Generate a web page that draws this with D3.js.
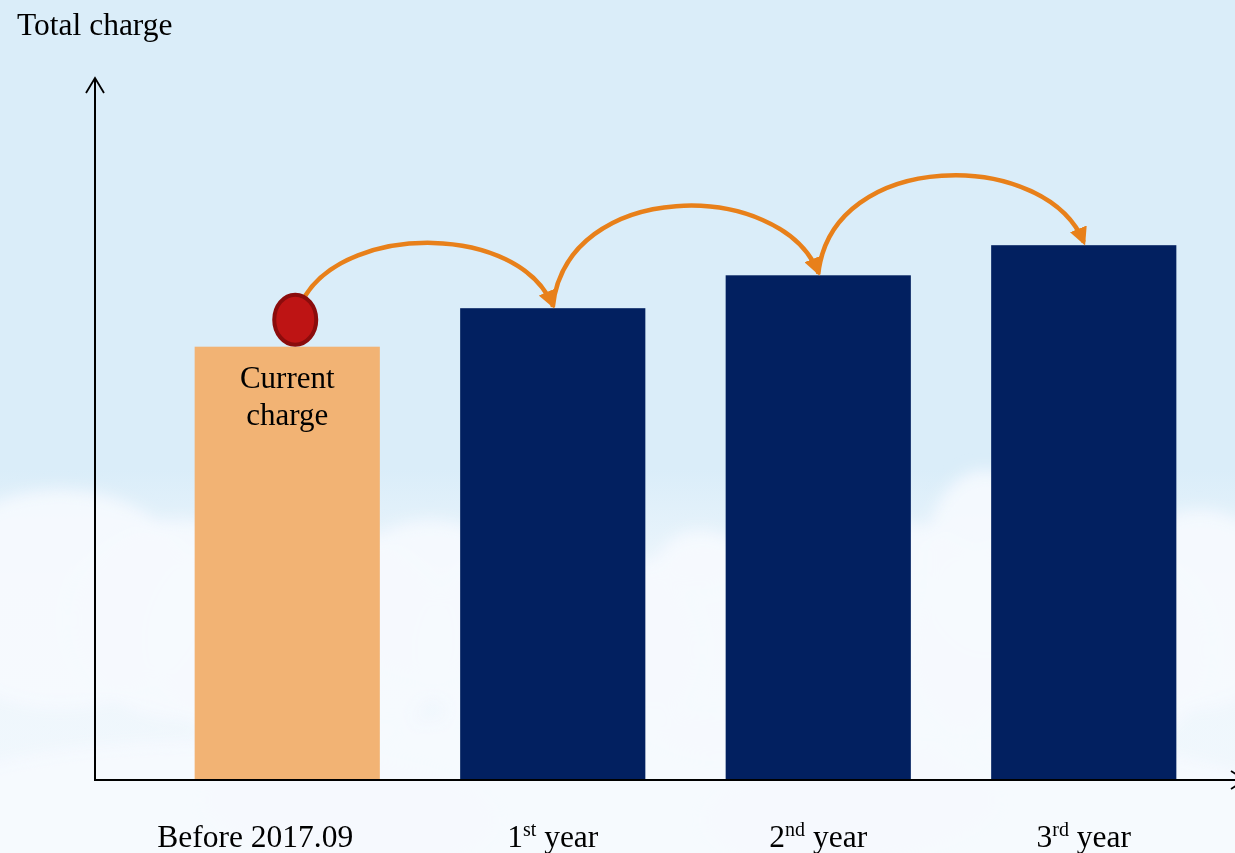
<!DOCTYPE html>
<html><head><meta charset="utf-8">
<script src="https://cdn.jsdelivr.net/npm/d3@7"></script>
<style>html,body{margin:0;padding:0;overflow:hidden;background:#DAEDF9}svg{display:block}</style>
</head><body>
<svg id="chart" width="1235" height="853"></svg>
<script>
const categories = ["Before 2017.09", "1st year", "2nd year", "3rd year"];
const labelMain = ["Before 2017.09", "1", "2", "3"];
const labelSup = ["", "st", "nd", "rd"];
const labelTail = ["", " year", " year", " year"];
const values = [61.9, 67.4, 72.1, 76.4];
const barLabel = ["Current", "charge"];
const yTitle = "Total charge";

const W = 1235, H = 853;
const svg = d3.select("#chart");
const defs = svg.append("defs");

// background sky
const sky = defs.append("linearGradient").attr("id", "sky").attr("x1", 0).attr("y1", 0).attr("x2", 0).attr("y2", 1);
sky.append("stop").attr("offset", "0").attr("stop-color", "#DAEDF9");
sky.append("stop").attr("offset", "0.55").attr("stop-color", "#DAEDF9");
sky.append("stop").attr("offset", "0.68").attr("stop-color", "#EEF6FC");
sky.append("stop").attr("offset", "1").attr("stop-color", "#F1F8FD");
svg.append("rect").attr("width", W).attr("height", H).attr("fill", "url(#sky)");

const blur = defs.append("filter").attr("id", "blur").attr("x", "-50%").attr("y", "-50%").attr("width", "200%").attr("height", "200%");
blur.append("feGaussianBlur").attr("stdDeviation", 8);
const clouds = [
  [60, 600, 140, 110], [180, 620, 110, 100], [300, 640, 150, 120], [430, 600, 90, 80],
  [560, 650, 140, 110], [700, 560, 40, 30], [720, 650, 120, 110], [880, 640, 140, 120],
  [985, 560, 60, 90], [1060, 650, 150, 120], [1200, 610, 90, 100], [600, 800, 400, 90], [200, 820, 300, 80], [1000, 820, 300, 80]
];
svg.append("g").attr("filter", "url(#blur)").selectAll("ellipse").data(clouds).join("ellipse")
  .attr("cx", d => d[0]).attr("cy", d => d[1]).attr("rx", d => d[2]).attr("ry", d => d[3])
  .attr("fill", "#F6FAFE").attr("opacity", 0.9);

// scales
const x = d3.scaleBand().domain(categories).range([115, 1256]).paddingInner(0.3025).paddingOuter(0.3);
const y = d3.scaleLinear().domain([0, 100]).range([780, 80]);
const axisX0 = 95;

// bars
svg.append("g").selectAll("rect").data(categories).join("rect")
  .attr("x", d => x(d)).attr("y", (d, i) => y(values[i]))
  .attr("width", x.bandwidth()).attr("height", (d, i) => y(0) - y(values[i]))
  .attr("fill", (d, i) => i === 0 ? "#F2B374" : "#022060");

// axes
const axG = svg.append("g").attr("stroke", "#000").attr("stroke-width", 2).attr("fill", "none");
axG.append("line").attr("x1", axisX0).attr("y1", y(0)).attr("x2", axisX0).attr("y2", 78);
axG.append("path").attr("d", `M${axisX0 - 9},${93} L${axisX0},${78} L${axisX0 + 9},${93}`).attr("stroke-width", 1.8);
axG.append("line").attr("x1", axisX0 - 1).attr("y1", y(0)).attr("x2", 1245).attr("y2", y(0));
axG.append("path").attr("d", `M${1231},${771} L${1245},${780} L${1231},${789}`).attr("stroke-width", 1.8);

const serif = "Liberation Serif, Times New Roman, serif";
// y title
svg.append("text").attr("x", 17).attr("y", 35).text(yTitle)
  .attr("font-family", serif).attr("font-size", 31.5).attr("fill", "#000");

// x labels
const lbl = svg.append("g").attr("font-family", serif).attr("font-size", 31.5).attr("fill", "#000");
categories.forEach((c, i) => {
  const t = lbl.append("text").attr("x", x(c) + x.bandwidth() / 2 + (i === 0 ? -32 : 0)).attr("y", 847).attr("text-anchor", "middle");
  t.append("tspan").text(labelMain[i]);
  if (labelSup[i]) {
    t.append("tspan").text(labelSup[i]).attr("font-size", 20).attr("dy", -11);
    t.append("tspan").text(labelTail[i]).attr("dy", 11);
  }
});

// label inside first bar
const cx0 = x(categories[0]) + x.bandwidth() / 2;
svg.append("g").attr("font-family", serif).attr("font-size", 31).attr("fill", "#000")
  .selectAll("text").data(barLabel).join("text")
  .attr("x", cx0).attr("y", (d, i) => y(values[0]) + 41 + i * 37).attr("text-anchor", "middle").text(d => d);

// arrows
defs.append("marker").attr("id", "ah").attr("viewBox", "0 0 10 10").attr("refX", 8).attr("refY", 5)
  .attr("markerWidth", 4).attr("markerHeight", 4).attr("markerUnits", "strokeWidth").attr("orient", "auto")
  .append("path").attr("d", "M0,0 L10,5 L0,10 Z").attr("fill", "#E8801A");

const circleCx = cx0 + 8, circleCy = y(values[0]) - 27;
const arrowG = svg.append("g").attr("fill", "none").attr("stroke", "#E8801A").attr("stroke-width", 4.5);
for (let i = 0; i < categories.length - 1; i++) {
  const sx = i === 0 ? circleCx + 10 : x(categories[i]) + x.bandwidth() / 2;
  const sy = i === 0 ? circleCy - 24 : y(values[i]) - 1;
  const ex = x(categories[i + 1]) + x.bandwidth() / 2;
  const ey = y(values[i + 1]) - 3;
  const top = Math.min(sy, ey) - (i === 0 ? 72 : 94);
  const p = d3.path();
  p.moveTo(sx, sy);
  p.bezierCurveTo(sx + (i === 0 ? 45 : 13), top, ex - (i === 0 ? 35 : 38), top, ex, ey);
  arrowG.append("path").attr("d", p.toString()).attr("marker-end", "url(#ah)");
}

// red dot
svg.append("ellipse").attr("cx", circleCx).attr("cy", circleCy).attr("rx", 21).attr("ry", 25)
  .attr("fill", "#BE1414").attr("stroke", "#8B0C0C").attr("stroke-width", 4);
</script>
</body></html>
